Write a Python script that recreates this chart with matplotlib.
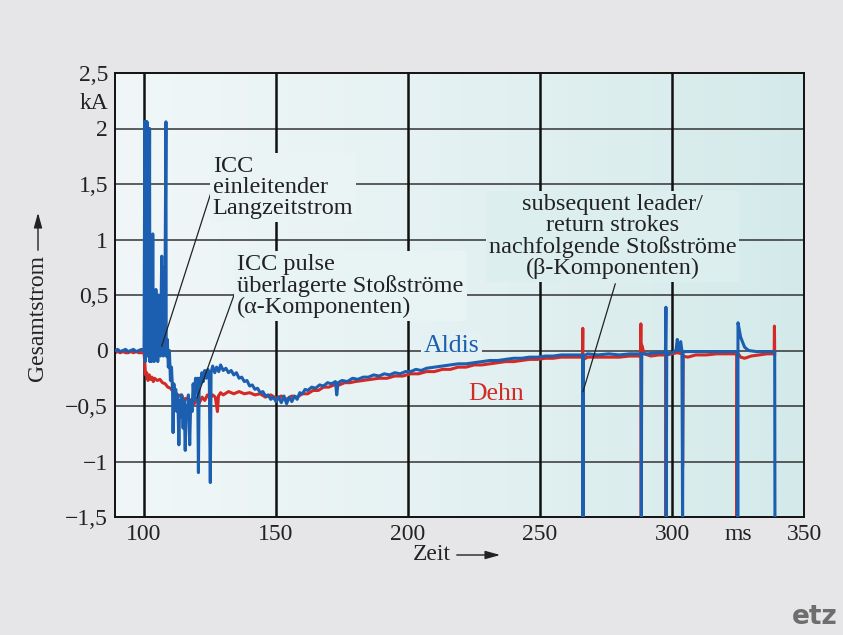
import numpy as np
import matplotlib
matplotlib.use("Agg")
import matplotlib.pyplot as plt
from matplotlib.colors import LinearSegmentedColormap, to_hex

# --- data (time in ms, current in kA) ---
aldis_t = [89, 90, 91, 92, 93, 94, 95, 96, 97, 98, 99, 100.0,
           100.3, 100.4, 100.5, 100.6, 100.7, 100.8, 100.9, 101.0, 101.1, 101.2,
           101.3, 101.4, 101.5, 101.6, 101.8, 101.9, 102.1, 102.2, 102.4, 102.5,
           102.7, 102.8, 103.0, 103.2, 103.3, 103.4, 103.6, 103.8, 104.0, 104.2,
           104.5, 104.7, 105.0, 105.2, 105.5, 105.7, 106.0, 106.2, 106.7, 106.8,
           107.2, 107.3, 107.6, 107.8, 108.3, 108.4, 108.8, 109.2, 109.6, 110.0,
           110.4, 110.8, 111.0, 111.3, 111.7, 112.0, 112.4, 112.8, 113.2, 113.5,
           113.9, 114.3, 114.8, 115.2, 115.6, 116.0, 116.4, 116.8, 117.3, 117.7,
           118.2, 118.6, 119.0, 119.5, 120.0, 120.3, 120.6, 120.9, 121.4, 121.9,
           122.4, 123.0, 123.6, 124.2, 124.7, 125.1, 125.4, 126.0, 126.8, 127.5,
           128.3, 129.0, 130, 131, 132, 133, 134, 135, 136, 137, 138, 139, 140,
           141, 142, 143, 144, 145, 146, 147, 148, 149, 150, 151, 152, 153, 154,
           155, 156, 157, 158, 159, 160, 161, 162, 163.5, 165, 166.5, 168, 169.5,
           171, 172.5, 173.0, 173.5, 175, 177, 179, 181, 183, 185, 187, 189, 191,
           193, 195, 197, 199, 201, 203, 205, 207, 210, 213, 216, 219, 222, 225,
           228, 231, 234, 237, 240, 243, 246, 249, 252, 255, 258, 261, 264,
           266.2, 266.3, 266.4, 268, 272, 276, 280, 284, 288.3, 288.4, 288.5, 291,
           294, 297.5, 297.7, 297.8, 298.0, 300, 301.5, 302.0, 302.5, 303.3, 303.8,
           304.0, 304.2, 307, 311, 315, 319, 323, 324.8, 324.9, 325.0, 326.0,
           327.5, 329, 332, 336, 338.9, 339.0]
aldis_i = [0.0, 0.01, -0.01, 0.0, 0.01, -0.01, 0.0, 0.01, -0.01, 0.0, 0.01, 0.0,
           2.06, -0.1, 2.06, 0.2, 2.06, 1.6, 2.06, 0.1, 2.06, 1.7,
           2.05, -0.05, 1.65, 0.3, 2.0, 0.0, 2.0, -0.1, 0.9, 0.05,
           0.6, -0.1, 0.4, 0.0, 1.05, -0.05, 0.45, -0.1, 0.35, 0.0,
           0.55, -0.05, 0.3, -0.1, 0.5, 0.0, 0.4, -0.05, 0.85, 0.0,
           0.75, -0.05, 0.3, 0.0, 2.06, -0.05, 0.1, -0.15, 0.0, -0.27,
           -0.15, -0.35, -0.74, -0.3, -0.45, -0.35, -0.55, -0.4, -0.85, -0.45,
           -0.6, -0.4, -0.7, -0.45, -0.9, -0.5, -0.6, -0.4, -0.85, -0.45,
           -0.55, -0.3, -0.45, -0.25, -0.35, -0.25, -1.1, -0.25, -0.3, -0.2,
           -0.28, -0.18, -0.25, -0.17, -0.22, -1.19, -0.2, -0.14, -0.2, -0.15,
           -0.19, -0.13, -0.18, -0.16, -0.2, -0.18, -0.22, -0.2, -0.25, -0.24, -0.28, -0.27, -0.32,
           -0.31, -0.35, -0.34, -0.38, -0.37, -0.41, -0.40, -0.44, -0.42, -0.46, -0.42, -0.47, -0.41, -0.48,
           -0.42, -0.46, -0.41, -0.44, -0.38, -0.39, -0.35, -0.36, -0.33, -0.34, -0.31, -0.32, -0.29,
           -0.30, -0.28, -0.40, -0.29, -0.27, -0.28, -0.25, -0.26, -0.24, -0.24, -0.22, -0.23, -0.21,
           -0.22, -0.20, -0.21, -0.19, -0.19, -0.17, -0.18, -0.16, -0.15, -0.14, -0.13, -0.12, -0.12, -0.11,
           -0.10, -0.09, -0.09, -0.08, -0.07, -0.07, -0.06, -0.06, -0.05, -0.05, -0.04, -0.04, -0.04,
           -0.04, -1.6, -0.05, -0.03, -0.04, -0.03, -0.04, -0.03, -0.03, -1.6, -0.03, -0.03,
           -0.02, -0.02, 0.39, -1.6, -0.03, -0.02, 0.0, 0.1, 0.0, 0.08, -0.01,
           -1.6, -0.01, -0.01, -0.01, -0.01, -0.01, -0.01, -0.01, -1.6, 0.25, 0.12,
           0.03, 0.0, -0.01, -0.01, -0.01, -1.6]

dehn_t = [89, 90, 91, 92, 93, 94, 95, 96, 97, 98, 99, 100.0,
          100.3, 100.6, 101.0, 101.5, 102.0, 102.5, 103, 103.5, 104, 105, 106,
          107, 108, 109, 110, 111, 112, 113, 114, 115, 116, 117, 118, 119, 120,
          121, 122, 123, 124, 125, 126, 127, 127.8, 128.2, 129, 130, 132, 134,
          136, 138, 140, 142, 144, 146, 148, 150, 152, 154, 156, 158, 160, 162,
          164, 166, 168, 170, 172, 174, 176, 178, 180, 183, 186, 189, 192, 195,
          198, 201, 204, 207, 210, 213, 216, 219, 222, 225, 228, 231, 234, 237,
          240, 243, 246, 249, 252, 255, 258, 261, 264, 266.1, 266.2, 266.3,
          266.45, 268, 272, 276, 280, 284, 288.1, 288.2, 288.35, 288.5, 289.5,
          292, 295, 297.6, 297.75, 297.9, 300, 302, 303.9, 304.0, 304.2, 306,
          309, 313, 317, 321, 324.5, 324.6, 324.8, 326, 327.5, 330, 333, 336,
          338.7, 338.8, 338.9]
dehn_i = [-0.02, -0.01, -0.02, -0.01, -0.02, -0.02, -0.01, -0.02, -0.01, -0.02, -0.02, -0.02,
          -0.12, -0.22, -0.2, -0.27, -0.22, -0.26, -0.24, -0.28, -0.25, -0.27, -0.26,
          -0.29, -0.3, -0.33, -0.34, -0.37, -0.38, -0.41, -0.4, -0.44, -0.43, -0.46, -0.44, -0.48, -0.45,
          -0.47, -0.42, -0.45, -0.40, -0.43, -0.40, -0.42, -0.55, -0.41, -0.38, -0.40, -0.37, -0.39,
          -0.37, -0.39, -0.38, -0.40, -0.39, -0.42, -0.40, -0.43, -0.41, -0.44, -0.41, -0.42, -0.39, -0.39,
          -0.36, -0.36, -0.33, -0.33, -0.31, -0.31, -0.29, -0.29, -0.28, -0.27, -0.26, -0.25, -0.25, -0.23,
          -0.23, -0.21, -0.21, -0.19, -0.19, -0.17, -0.17, -0.15, -0.15, -0.13, -0.13, -0.12, -0.11, -0.10,
          -0.10, -0.09, -0.08, -0.08, -0.07, -0.07, -0.06, -0.06, -0.06, -0.06, 0.2, -1.6,
          -0.08, -0.06, -0.06, -0.06, -0.06, -0.05, -0.05, 0.24, -1.6, 0.05, -0.03,
          -0.05, -0.04, -0.04, -1.6, -0.04, -0.03, -0.02, -0.03, -1.05, -0.05, -0.06,
          -0.04, -0.04, -0.03, -0.03, -0.03, -1.6, -0.02, -0.06, -0.07, -0.05, -0.04, -0.03,
          -0.03, 0.22, -0.03]

y_ticks = [-1.5, -1, -0.5, 0, 0.5, 1, 1.5, 2, 2.25, 2.5]
y_labels = ["\u22121,5", "\u22121", "\u22120,5", "0", "0,5", "1", "1,5", "2", "kA", "2,5"]
x_ticks = [100, 150, 200, 250, 300, 325, 350]
x_labels = ["100", "150", "200", "250", "300", "ms", "350"]

plt.rcParams["font.family"] = ["Liberation Serif", "DejaVu Serif"]

fig = plt.figure(figsize=(8.43, 6.35), dpi=100, facecolor="#e6e6e8")
ax = fig.add_axes([115 / 843, 1 - 517 / 635, 689 / 843, 444 / 635])

x0, x1, y0, y1 = 89, 350, -1.5, 2.5
bg_cmap = LinearSegmentedColormap.from_list("bg", ["#f1f7f8", "#e4f1f2", "#d4eaea"])
ax.imshow(np.linspace(0, 1, 256).reshape(1, -1), cmap=bg_cmap, aspect="auto",
          extent=[x0, x1, y0, y1], zorder=0)


def bg_at(x):
    return to_hex(bg_cmap((x - x0) / (x1 - x0)))


for yv in [-1, -0.5, 0, 0.5, 1, 1.5, 2]:
    ax.axhline(yv, color="#333333", lw=1.1, zorder=1)
for xv in [100, 150, 200, 250, 300]:
    ax.axvline(xv, color="#111111", lw=1.8, zorder=1)

ax.plot(dehn_t, dehn_i, color="#d42a26", lw=2.2, zorder=2)
ax.plot(aldis_t, aldis_i, color="#1c5fb0", lw=2.2, zorder=3)

ax.set_xlim(x0, x1)
ax.set_ylim(y0, y1)
ax.set_xticks(x_ticks)
ax.set_xticklabels(x_labels)
ax.set_yticks(y_ticks)
ax.set_yticklabels(y_labels)
ax.tick_params(length=0, labelsize=17, colors="#222222", pad=5)
for s in ax.spines.values():
    s.set_color("#111111")
    s.set_linewidth(1.4)

fs = 17.5
kw = dict(fontsize=fs, color="#222222", zorder=5, linespacing=1.0)

ax.text(126.0, 1.47, "ICC\neinleitender\nLangzeitstrom", ha="left", va="center",
        bbox=dict(boxstyle="square,pad=0.12", fc=bg_at(150), ec="none"), **kw)
ax.plot([126.0, 106.7], [1.47, 0.04], color="#222222", lw=0.9, zorder=4)

ax.text(135.3, 0.58, "ICC pulse\n\u00fcberlagerte Sto\u00dfstr\u00f6me\n(\u03b1-Komponenten)",
        ha="left", va="center",
        bbox=dict(boxstyle="square,pad=0.12", fc=bg_at(180), ec="none"), **kw)
ax.plot([135.0, 120.0], [0.56, -0.43], color="#222222", lw=0.9, zorder=4)

ax.text(277.5, 1.03, "subsequent leader/\nreturn strokes\nnachfolgende Sto\u00dfstr\u00f6me\n(\u03b2-Komponenten)",
        ha="center", va="center",
        bbox=dict(boxstyle="square,pad=0.12", fc=bg_at(277), ec="none"), **kw)
ax.plot([278.5, 266.3], [0.6, -0.37], color="#222222", lw=0.9, zorder=4)

ax.text(216.5, 0.04, "Aldis", ha="center", va="center", fontsize=fs + 1, color="#1c5fb0",
        zorder=5, bbox=dict(boxstyle="square,pad=0.1", fc=bg_at(216), ec="none"))
ax.text(233.5, -0.39, "Dehn", ha="center", va="center", fontsize=fs + 1, color="#d42a26", zorder=5)

# axis labels with arrows (figure pixels, origin bottom-left)
fig.text(38, 635 - 318, "Gesamtstrom", rotation=90, ha="center", va="center",
         fontsize=17, color="#222222", transform=None)
ax.annotate("", xy=(38, 635 - 210), xytext=(38, 635 - 253), xycoords="figure pixels",
            textcoords="figure pixels", annotation_clip=False,
            arrowprops=dict(arrowstyle="-|>,head_length=0.9,head_width=0.25", color="#222222", lw=1.0))
fig.text(432, 635 - 555, "Zeit", ha="center", va="center", fontsize=17, color="#222222",
         transform=None)
ax.annotate("", xy=(503, 635 - 555), xytext=(454, 635 - 555), xycoords="figure pixels",
            textcoords="figure pixels", annotation_clip=False,
            arrowprops=dict(arrowstyle="-|>,head_length=0.9,head_width=0.25", color="#222222", lw=1.0))

fig.text(838, 635 - 617, "etz", ha="right", va="center", fontsize=19, fontweight="bold",
         family="DejaVu Sans", color="#6e6e6e", transform=None)

fig.savefig("out.png", dpi=100, facecolor=fig.get_facecolor())
